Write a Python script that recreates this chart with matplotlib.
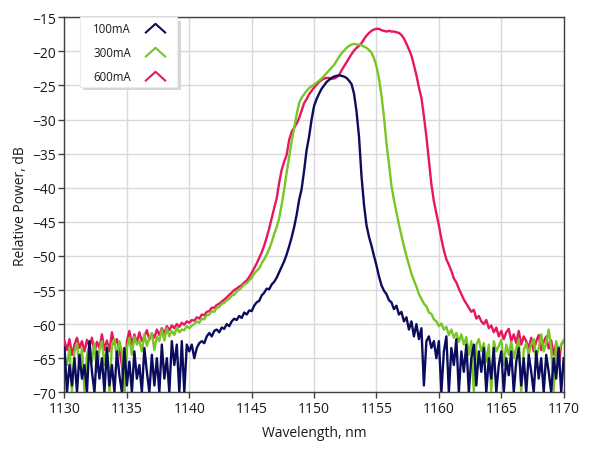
import numpy as np
import matplotlib
matplotlib.use("Agg")
import matplotlib.pyplot as plt
from matplotlib.path import Path
from matplotlib.lines import Line2D
from matplotlib.patches import Rectangle

# wavelength grid, 0.2 nm steps from 1130 to 1170
wl = np.round(np.arange(1130.0, 1170.001, 0.2), 1)

p100 = [
    -63.5, -70, -66, -69, -65, -70, -64.5, -68, -66, -70,
    -62.5, -67, -70, -64, -68, -65, -70, -63.5, -69, -66,
    -70, -64, -67.5, -70, -63.5, -69, -65.5, -70, -64, -68,
    -66, -70, -63.5, -67, -70, -64.5, -69, -65, -70, -63,
    -68, -65, -70, -62.5, -66, -63, -70, -62.5, -70, -63,
    -64, -63, -65, -63.5, -62.8, -62.5, -62.8, -61.8, -61.3, -61.8,
    -61, -60.8, -61.2, -60.5, -60.7, -60, -60.3, -59.6, -59.2, -59.4,
    -58.8, -59.1, -58.3, -58.6, -58, -58.1, -57.3, -56.8, -56.6, -55.8,
    -55.4, -54.8, -54.9, -54.2, -53.8, -53.2, -52.4, -51.6, -50.8, -49.8,
    -48.6, -47.3, -45.8, -44, -41.8, -40.2, -37.5, -34.5, -32.5, -30,
    -28, -27, -26.2, -25.5, -25, -24.5, -24.2, -23.9, -23.7, -23.6,
    -23.5, -23.6, -23.7, -23.9, -24.3, -24.8, -26.2, -28.8, -32.5, -38.3,
    -42.5, -45.5, -47.2, -48.5, -50, -51.4, -53, -54.3, -55.1, -55.6,
    -56.5, -56.8, -57.8, -57.3, -58.6, -58.2, -59.6, -59, -60.8, -59.6,
    -61.8, -60, -62.2, -60.6, -69, -62.5, -61.8, -63.5, -62.5, -65,
    -62.5, -70, -64, -61.8, -70, -63.5, -66, -62.2, -70, -64,
    -67, -63, -70, -65, -63, -69, -64, -67, -63.5, -70,
    -65, -68, -63.5, -70, -66, -64, -70, -65, -67.5, -64,
    -70, -65.5, -63.5, -69, -65, -70, -64.5, -67, -70, -64,
    -68, -65, -70, -64.5, -67, -70, -65, -68, -63.5, -70,
    -65,
]

p300 = [
    -64.5, -66, -63.5, -70, -64, -62.8, -66.5, -63.5, -70, -64.5,
    -63, -65.5, -62.8, -67, -63.8, -62.5, -66, -63.2, -70, -63,
    -62.2, -65, -62.5, -64, -70, -63.5, -62, -64.5, -61.8, -63,
    -62.5, -64, -61.5, -63.2, -62, -61.3, -63.8, -61.8, -62.5, -60.8,
    -62.4, -60.6, -61.8, -61, -61.6, -60.5, -61.2, -60.8, -60.9, -60.3,
    -60.6, -60.2, -60, -59.6, -59.8, -59.2, -59.3, -58.7, -58.6, -58.1,
    -58.2, -57.6, -57.5, -57, -56.9, -56.5, -56.3, -55.8, -55.7, -55.2,
    -55, -54.6, -54.2, -54, -53.6, -53.2, -52.6, -52.2, -51.8, -51.1,
    -50.5, -49.8, -49, -48, -46.8, -45.8, -44.5, -42.5, -40.3, -37.8,
    -35.5, -33.2, -31.3, -29.3, -27.6, -26.8, -26.3, -25.8, -25.4, -25.1,
    -24.9, -24.6, -24.3, -24, -23.6, -23.2, -22.8, -22.4, -22, -21.4,
    -20.8, -20.3, -19.9, -19.5, -19.2, -19, -18.9, -19, -19, -19.1,
    -19.3, -19.5, -19.8, -20.2, -21, -22.2, -24, -26.5, -29.6, -33.5,
    -36.5, -39.7, -41.8, -43.6, -45.4, -47, -48.6, -50, -51.3, -52.6,
    -53.6, -54.5, -55.6, -56.3, -57, -57.4, -58.3, -58.5, -59.3, -59.6,
    -60.3, -59.9, -60.8, -60.4, -61.6, -60.8, -62, -61.3, -62.6, -61.5,
    -63, -61.9, -64.5, -62.5, -70, -63, -62.2, -64, -62.8, -65.5,
    -63, -70, -62.5, -64, -63.2, -62.3, -66, -63, -64.5, -62.6,
    -65, -63.5, -62.2, -70, -63.8, -62.8, -64.5, -63, -62.2, -65,
    -63.5, -61.5, -64, -62.8, -60.8, -63.6, -70, -62.5, -64, -63,
    -62.3,
]

p600 = [
    -62.5, -63.8, -62.2, -64.5, -63, -62, -63.5, -62.5, -64, -62.3,
    -63.3, -62, -64.2, -62.6, -63.5, -61.5, -63.8, -62.4, -64, -61.2,
    -63, -62.2, -63.8, -66, -70, -62.5, -61, -63, -61.5, -62.8,
    -61.2, -62.5, -61.8, -60.9, -62.3, -61.4, -62, -60.8, -61.6, -60.6,
    -61.4, -60.3, -60.9, -60.2, -60.6, -60, -60.4, -59.8, -60.1, -59.6,
    -59.8, -59.4, -59.5, -59, -59.2, -58.6, -58.7, -58.2, -58.1, -57.6,
    -57.6, -57.2, -57, -56.7, -56.4, -56.1, -55.7, -55.4, -55, -54.8,
    -54.5, -54.3, -53.9, -53.6, -53.1, -52.5, -51.8, -51.1, -50.3, -49.5,
    -48.5, -47.3, -46, -44.5, -43, -41.6, -39.3, -37.4, -36.2, -35.2,
    -33, -31.8, -31.2, -30.6, -29.8, -28.7, -27.6, -27, -26.3, -25.8,
    -25.3, -24.9, -24.5, -24.2, -24, -23.9, -23.9, -24, -24, -23.8,
    -23.5, -22.8, -22.2, -21.6, -21, -20.4, -19.9, -19.5, -19.2, -18.8,
    -18.2, -17.7, -17.3, -17, -16.8, -16.7, -16.7, -16.9, -17, -17.1,
    -17, -17.1, -17.1, -17.2, -17.3, -17.6, -18.1, -18.9, -19.7, -20.6,
    -22, -23.5, -25.3, -26.8, -29.5, -32.5, -36, -39.5, -42, -43.8,
    -45.5, -47.5, -49.2, -50.5, -51.3, -52.2, -53.3, -53.9, -54.8, -55.6,
    -56.4, -57, -57.6, -58.2, -57.9, -59.2, -58.8, -59.6, -60, -59.4,
    -60.6, -60.2, -61.2, -60.5, -61.8, -61, -62.2, -61.2, -60.7, -62.5,
    -61.5, -62.8, -61, -63, -61.8, -62.5, -63.5, -62, -64, -62.5,
    -61.6, -63.8, -62.6, -61.8, -63.6, -62.4, -64.5, -62.8, -66, -63,
    -62.5,
]

labels = ["100mA", "300mA", "600mA"]
colors = ["#0c0c5e", "#78c526", "#e8175d"]

plt.rcParams["font.family"] = ["Open Sans", "DejaVu Sans"]

fig = plt.figure(figsize=(5.89, 4.56), dpi=100)
ax = fig.add_axes([0.1095, 0.1375, 0.8475, 0.8225])

# drawn back to front: 600mA under, 100mA on top
series = [p100, p300, p600]
for k in [2, 1, 0]:
    ax.plot(wl, series[k], color=colors[k], lw=1.7, zorder=3 - k + 2)

ax.set_xlim(1130, 1170)
ax.set_ylim(-70, -15)
ax.set_xticks(np.arange(1130, 1171, 5))
ax.set_yticks(np.arange(-70, -14, 5))
ax.grid(True, color="#d9d9d9", lw=1.0)
ax.set_axisbelow(True)
for s in ax.spines.values():
    s.set_color("#404040")
    s.set_linewidth(1.0)
ax.tick_params(direction="out", length=4, width=1, color="#404040",
               labelsize=10, labelcolor="#1a1a1a", pad=2)
ax.set_xlabel("Wavelength, nm", fontsize=10, color="#1a1a1a", labelpad=7)
ax.set_ylabel("Relative Power, dB", fontsize=10, color="#1a1a1a", labelpad=3)

# legend box with a small drop shadow
bx0, bx1, by0, by1 = 0.031, 0.2254, 0.814, 1.0
ax.add_patch(Rectangle((bx0 + 0.007, by0 - 0.009), bx1 - bx0, by1 - by0,
                       transform=ax.transAxes, facecolor="#d6d6d6",
                       edgecolor="none", zorder=9, clip_on=False))
ax.add_patch(Rectangle((bx0, by0), bx1 - bx0, by1 - by0,
                       transform=ax.transAxes, facecolor="white",
                       edgecolor="#ececec", lw=0.8, zorder=9.5, clip_on=False))

# chevron legend symbols
chev = Path([(-1.0, -0.45), (0.0, 0.45), (1.0, -0.45)],
            [Path.MOVETO, Path.LINETO, Path.LINETO])
handles = [Line2D([], [], ls="none", marker=chev, markersize=15,
                  markerfacecolor="none", markeredgecolor=c, markeredgewidth=1.5)
           for c in colors]
leg = ax.legend(handles, labels, loc="upper left", bbox_to_anchor=(0.057, 0.988),
                borderaxespad=0, borderpad=0, markerfirst=False, fontsize=8.3,
                frameon=False, handlelength=2.0, handletextpad=1.1,
                labelspacing=0.95, labelcolor="#1a1a1a")
leg.set_zorder(10)

fig.savefig("out.png", dpi=100)
